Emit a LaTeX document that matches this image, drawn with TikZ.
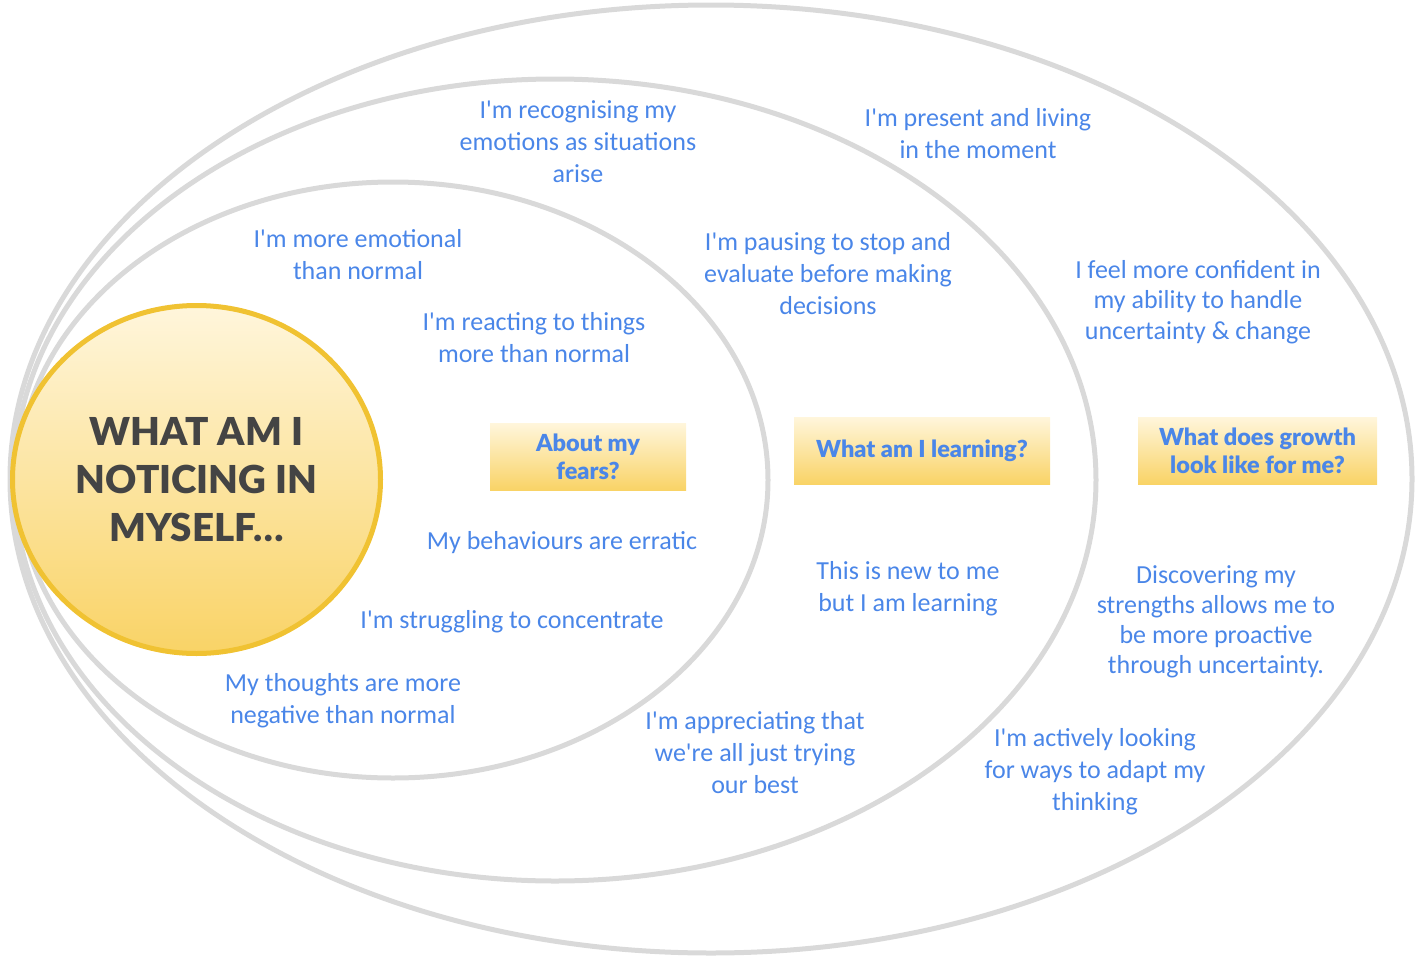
\documentclass[tikz,border=0pt]{standalone}
\usepackage{fontspec}
\usetikzlibrary{shapes.geometric}
\IfFontExistsTF{Lato Black}
  {\newfontfamily\headfont{Lato Black}}
  {\newfontfamily\headfont{Lato}[UprightFont=* Bold, FakeBold=1.5]}
\newfontfamily\hand{Carlito}
\definecolor{ring}{HTML}{D9D9D9}
\definecolor{bluetxt}{HTML}{4A86E8}
\definecolor{goldline}{HTML}{F0C232}
\definecolor{gradtop}{HTML}{FFF6DC}
\definecolor{gradbot}{HTML}{F9D366}
\definecolor{darktxt}{HTML}{444444}
\tikzset{
  ringline/.style={draw=ring, line width=5pt},
  note/.style={text=bluetxt, align=center, inner sep=0pt, font=\hand\fontsize{26}{32}\selectfont},
  qbox/.style={top color=gradtop, bottom color=gradbot, text=bluetxt, align=center, inner sep=0pt,
    font=\headfont\fontsize{23.5}{28}\selectfont},
}
\begin{document}
\begin{tikzpicture}[x=1pt,y=-1pt]
\useasboundingbox (0,0) rectangle (1425,956);
% rings
\draw[ringline] (711,479) ellipse [x radius=701pt, y radius=474pt];
\draw[ringline] (555,480) ellipse [x radius=541pt, y radius=401pt];
\draw[ringline] (393,480) ellipse [x radius=375pt, y radius=298pt];
% centre circle
\node[ellipse, minimum width=368pt, minimum height=348pt, draw=goldline, line width=5pt,
  top color=gradtop, bottom color=gradbot,
  text=darktxt, align=center, inner sep=0pt, font=\headfont\fontsize{38.5}{48}\selectfont]
  (core) at (196.5,479.5) {WHAT AM I\\NOTICING IN\\MYSELF\ldots};
% question boxes
\node[qbox, minimum width=196pt, minimum height=67pt] (fears) at (588,456.5) {About my\\fears?};
\node[qbox, minimum width=256pt, minimum height=67pt] (learn) at (922,450.5) {What am I learning?};
\node[qbox, minimum width=239pt, minimum height=67pt] (growth) at (1257.5,450.5) {What does growth\\look like for me?};
% notes
\node[note] (n1) at (578,142) {I'm recognising my\\emotions as situations\\arise};
\node[note] (n2) at (978,134) {I'm present and living\\in the moment};
\node[note] (n3) at (358,255) {I'm more emotional\\than normal};
\node[note] (n4) at (828,274) {I'm pausing to stop and\\evaluate before making\\decisions};
\node[note, font=\hand\fontsize{26}{30.5}\selectfont] (n5) at (1198,302) {I feel more confident in\\my ability to handle\\uncertainty \& change};
\node[note] (n6) at (534,338) {I'm reacting to things\\more than normal};
\node[note] (n7) at (562,543) {My behaviours are erratic};
\node[note] (n8) at (512,622) {I'm struggling to concentrate};
\node[note] (n9) at (343,701) {My thoughts are more\\negative than normal};
\node[note] (n10) at (908,589) {This is new to me\\but I am learning};
\node[note, font=\hand\fontsize{26}{30}\selectfont] (n11) at (1216,622) {Discovering my\\strengths allows me to\\be more proactive\\through uncertainty.};
\node[note] (n12) at (755,753) {I'm appreciating that\\we're all just trying\\our best};
\node[note] (n13) at (1095,772) {I'm actively looking\\for ways to adapt my\\thinking};
\end{tikzpicture}
\end{document}
